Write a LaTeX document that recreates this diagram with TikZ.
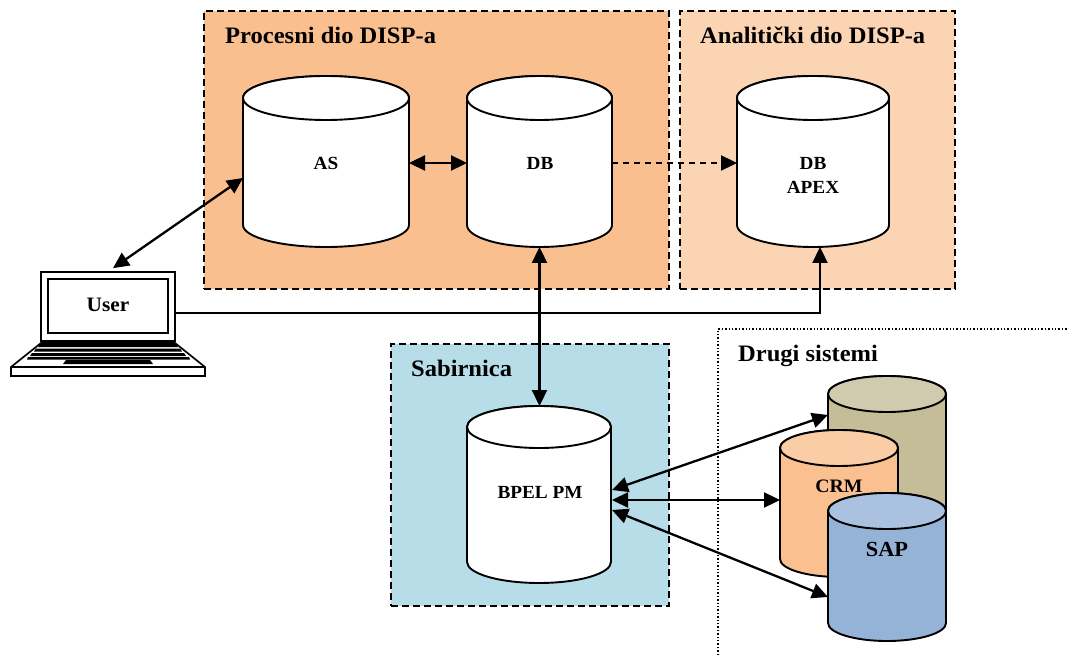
\documentclass[tikz,border=0pt]{standalone}
\usepackage{fontspec}
\setmainfont[FakeStretch=1.04]{Liberation Serif}
\usetikzlibrary{arrows.meta,calc}
\definecolor{procfill}{HTML}{FABF8F}
\definecolor{analfill}{HTML}{FBD4B4}
\definecolor{sabfill}{HTML}{B6DDE8}
\definecolor{olive}{HTML}{C4BD97}
\definecolor{olivetop}{HTML}{D0CBAF}
\definecolor{crm}{HTML}{FAC090}
\definecolor{crmtop}{HTML}{FBCDA7}
\definecolor{sap}{HTML}{95B3D7}
\definecolor{saptop}{HTML}{ABC1E0}
\tikzset{
  zonebox/.style={draw=black,line width=1.6pt,dash pattern=on 7pt off 4pt},
  zonetitle/.style={anchor=west,font=\fontsize{23.6}{26}\selectfont\bfseries,inner sep=0pt},
  dblabel/.style={font=\fontsize{18.5}{24}\selectfont\bfseries,align=center,inner sep=0pt},
  saplabel/.style={font=\fontsize{21.5}{26}\selectfont\bfseries,inner sep=0pt},
  crmlabel/.style={font=\fontsize{19}{24}\selectfont\bfseries,inner sep=0pt},
  cylbody/.style={draw=black,line width=1.9pt},
  link/.style={line width=2.3pt,{Triangle[length=16pt,width=15pt]}-{Triangle[length=16pt,width=15pt]}},
  onelink/.style={line width=2.3pt,-{Triangle[length=16pt,width=15pt]}},
  lap/.style={draw=black,line width=1.7pt},
}
% name, x1, x2, top, bottom, ry, body, cap
\newcommand{\dbcyl}[8]{%
  \pgfmathsetmacro{\rxv}{(#3-#2)/2}%
  \node[minimum width=#3pt-#2pt,minimum height=#5pt-#4pt,inner sep=0pt,outer sep=0pt] (#1) at ({(#2+#3)/2},{(#4+#5)/2}) {};
  \path[cylbody,fill=#7] (#2,#4+#6) -- (#2,#5-#6) arc[start angle=180,end angle=360,x radius=\rxv,y radius=-#6] -- (#3,#4+#6) arc[start angle=0,end angle=180,x radius=\rxv,y radius=-#6] -- cycle;
  \path[cylbody,fill=#8] (#2,#4+#6) arc[start angle=180,end angle=540,x radius=\rxv,y radius=#6] -- cycle;
}
\begin{document}
\begin{tikzpicture}[x=1pt,y=-1pt]
\useasboundingbox (0,0) rectangle (1069,655);
\path[fill=white] (0,0) rectangle (1069,655);
% zones
\node[zonebox,fill=procfill,minimum width=465pt,minimum height=278pt,inner sep=0pt] (proc) at (436.5,150) {};
\node[zonebox,fill=analfill,minimum width=275pt,minimum height=278pt,inner sep=0pt] (anal) at (817.5,150) {};
\node[zonebox,fill=sabfill,minimum width=278pt,minimum height=262pt,inner sep=0pt] (sab) at (530,475) {};
\coordinate (dsa) at (718,655);
\coordinate (dsb) at (718,329);
\coordinate (dsc) at (1069,329);
\draw[line width=1.4pt,dotted] (dsa) -- (dsb) -- (dsc);
\node[zonetitle] (tproc) at (225,35) {Procesni dio DISP-a};
\node[zonetitle] (tanal) at (700,35) {Analitički dio DISP-a};
\node[zonetitle] (tsab) at (411,368) {Sabirnica};
\node[zonetitle] (tdrug) at (738,356) {Drugi sistemi};
% cylinders
\dbcyl{as}{243}{409}{76}{247}{22}{white}{white}
\dbcyl{db}{467}{612}{76}{247}{22}{white}{white}
\dbcyl{apex}{737}{889}{76}{247}{22}{white}{white}
\dbcyl{bpel}{467}{611}{406}{583}{21}{white}{white}
\dbcyl{other}{828}{946}{376}{530}{18}{olive}{olivetop}
\dbcyl{crmc}{780}{898}{430}{577}{18}{crm}{crmtop}
\dbcyl{sapc}{828}{946}{493}{641}{18}{sap}{saptop}
\node[dblabel] (las) at (326,163) {AS};
\node[dblabel] (ldb) at (540,163) {DB};
\node[dblabel] (lapex) at (813,175) {DB\\APEX};
\node[dblabel] (lbpel) at (540,492) {BPEL PM};
\node[crmlabel] (lcrm) at (839,486) {CRM};
\node[saplabel] (lsap) at (887,549) {SAP};
% laptop
\path[lap,fill=white] (41,343) -- (175,343) -- (205,367) -- (205,376) -- (11,376) -- (11,367) -- cycle;
\draw[lap] (11,367) -- (205,367);
\path[fill=black] (40,344) -- (176,344) -- (178,347) -- (38,347) -- cycle;
\path[fill=black] (36,348.5) -- (180,348.5) -- (182,351.5) -- (34,351.5) -- cycle;
\path[fill=black] (32,353) -- (184,353) -- (186,356) -- (30,356) -- cycle;
\path[fill=black] (28,357) -- (189,357) -- (190,359.5) -- (27,359.5) -- cycle;
\path[fill=black] (66,360) -- (150,360) -- (153,364) -- (63,364) -- cycle;
\node[lap,fill=white,minimum width=134pt,minimum height=69pt,inner sep=0pt] (screen) at (108,306.5) {};
\node[lap,fill=white,minimum width=120pt,minimum height=54pt,inner sep=0pt,font=\fontsize{20.5}{24}\selectfont\bfseries] (user) at (108,306) {\raisebox{3pt}{User}};
% connectors
\coordinate (uas) at ($(as.west)+(0,16.5)$);
\coordinate (usr) at ($(screen.north)+(5,-3)$);
\coordinate (corner) at (820,313);
\coordinate (start) at (175,313);
\draw[link] (usr) -- (uas);
\draw[link] (as.east |- ldb) -- (db.west |- ldb);
\draw[onelink,dash pattern=on 6pt off 5pt] (db.east |- ldb) -- (apex.west |- ldb);
\draw[onelink] (start) -- (corner) -- (corner |- apex.south);
\draw[link] (db.south) -- (db.south |- bpel.north);
\coordinate (b1) at (612,490);
\coordinate (b2) at (612,500);
\coordinate (b3) at (612,510);
\coordinate (o1) at (828,415);
\coordinate (o2) at (780,500);
\coordinate (o3) at (828,597);
\draw[link] (b1) -- (o1);
\draw[link] (b2) -- (o2);
\draw[link] (b3) -- (o3);
\end{tikzpicture}
\end{document}
